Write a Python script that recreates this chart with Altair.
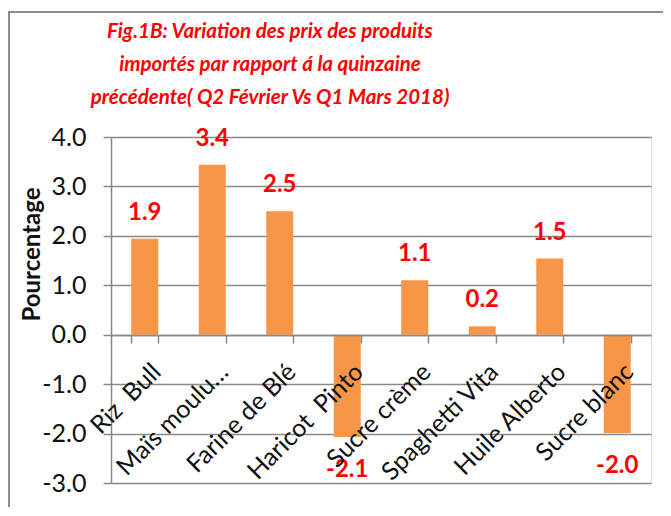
import altair as alt
import pandas as pd

categories = ["Riz \u00a0Bull", "Maïs moulu…", "Farine de Blé", "Haricot \u00a0Pinto",
              "Sucre crème", "Spaghetti Vita", "Huile Alberto", "Sucre blanc"]
values = [1.94, 3.44, 2.50, -2.07, 1.10, 0.17, 1.54, -1.99]
y_ticks = [-3, -2, -1, 0, 1, 2, 3, 4]
title_lines = ["Fig.1B: Variation des prix des produits",
               "importés par rapport á la quinzaine",
               "précédente( Q2 Février Vs Q1 Mars 2018)"]
y_title = "Pourcentage"

df = pd.DataFrame({"cat": categories, "val": values})

FONT = "Lato"
GRID = "#898989"
BAR = "#F79646"
RED = "#FF0000"

W, H = 540, 346

x_enc = alt.X("cat:N", sort=categories,
              scale=alt.Scale(paddingInner=0.6, paddingOuter=0.3),
              axis=alt.Axis(title=None, offset=-148, labelAngle=-45,
                            labelAlign="right", labelBaseline="top",
                            labelPadding=16, labelOffset=3, tickSize=8,
                            tickBand="extent", tickColor=GRID, tickWidth=1.5,
                            domainColor=GRID, domainWidth=1.5,
                            labelFont=FONT, labelFontSize=25, labelColor="#111111",
                            labelOverlap=False, labelLimit=300, grid=False,
                            zindex=1))
y_enc = alt.Y("val:Q",
              scale=alt.Scale(domain=[-3, 4], nice=False, zero=False),
              axis=alt.Axis(title=y_title, values=y_ticks,
                            labelExpr="replace(format(datum.value, '.1f'), '\u2212', '-')",
                            tickSize=8, tickColor=GRID, tickWidth=1.5,
                            domainColor=GRID, domainWidth=1.5,
                            gridColor=GRID, gridWidth=1.5, gridOpacity=1,
                            labelFont=FONT, labelFontSize=25, labelColor="#111111",
                            labelPadding=17,
                            titleFont=FONT, titleFontSize=24, titleFontWeight="bold",
                            titleColor="#111111", titleX=-79, titleY=117,
                            titleAlign="center", titleBaseline="middle"))

base = alt.Chart(df)

frame = alt.Chart(pd.DataFrame({"k": [0]})).mark_rect(
    fillOpacity=0, stroke="#8c8c8c", strokeWidth=2
).encode(x=alt.value(-102), x2=alt.value(700), y=alt.value(-125), y2=alt.value(500))

bars = base.mark_bar(color=BAR).encode(x=x_enc, y=y_enc)

label_calc = "replace(format(datum.val, '.1f'), '\u2212', '-')"

pos_labels = base.transform_filter("datum.val >= 0").transform_calculate(
    lab=label_calc
).mark_text(font=FONT, fontSize=24, fontWeight="bold", color=RED,
            baseline="middle", align="center", dy=-26).encode(
    x=alt.X("cat:N", sort=categories), y="val:Q", text="lab:N")

neg_labels = base.transform_filter("datum.val < 0").transform_calculate(
    lab=label_calc
).mark_text(font=FONT, fontSize=24, fontWeight="bold", color=RED,
            baseline="middle", align="center", dy=33).encode(
    x=alt.X("cat:N", sort=categories), y="val:Q", text="lab:N")

title = alt.Chart(pd.DataFrame({"t": ["\n".join(title_lines)]})).mark_text(
    font=FONT, fontSize=20.5, fontWeight="bold", fontStyle="italic", color=RED,
    align="center", baseline="middle", lineBreak="\n", lineHeight=33
).encode(x=alt.value(159), y=alt.value(-105), text="t:N")

chart = alt.layer(frame, bars, pos_labels, neg_labels, title).properties(
    width=W, height=H,
    autosize=alt.AutoSizeParams(type="none"),
    padding={"left": 103, "top": 129, "right": 12, "bottom": 24},
).configure_view(stroke=None).configure(background="white")

chart.save("out.html", embed_options={"renderer": "svg", "actions": False})
